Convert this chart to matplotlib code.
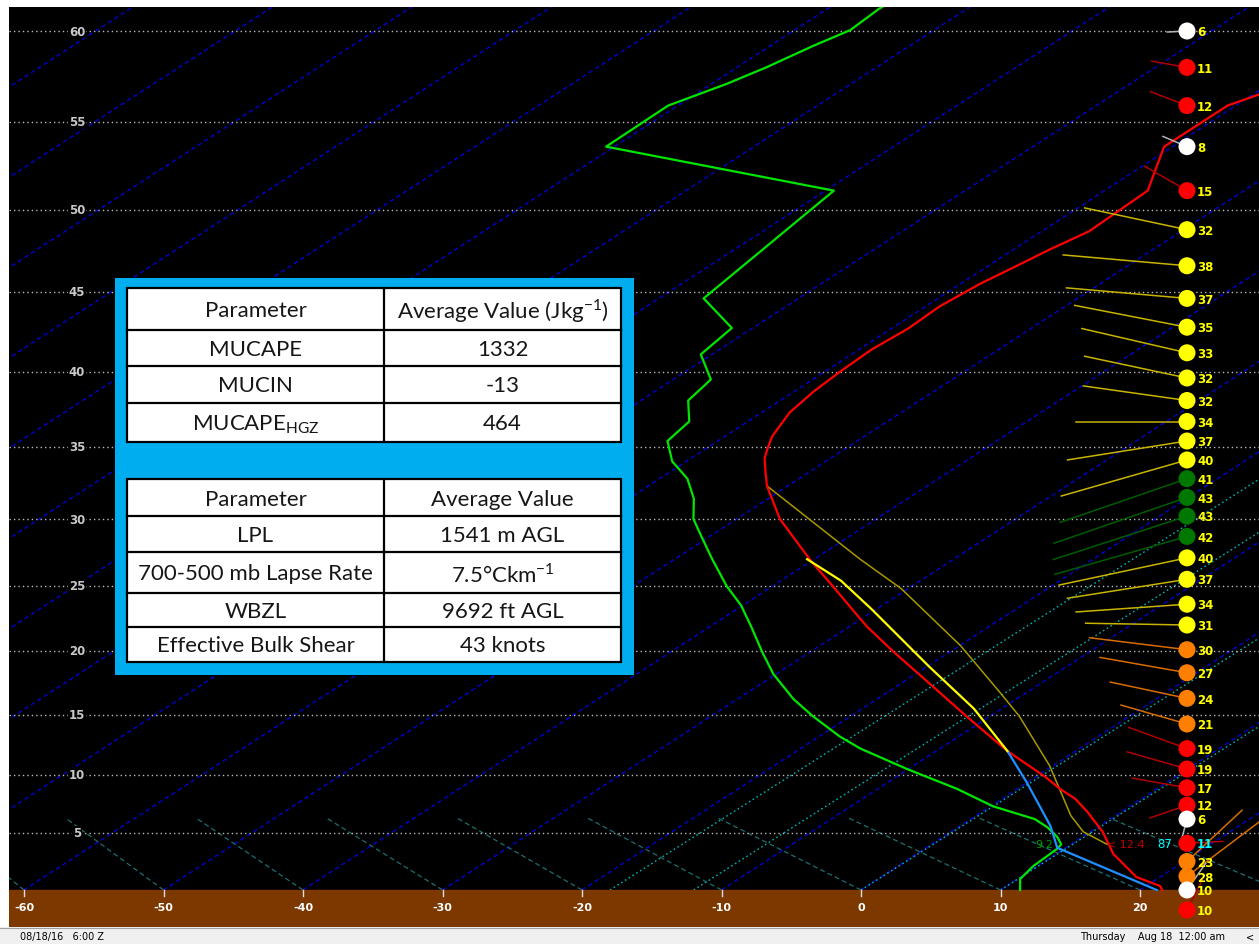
import numpy as np
import matplotlib
matplotlib.use("Agg")
import matplotlib.pyplot as plt
from matplotlib.patches import Rectangle

# ---- axis calibration (height labels in kft and their vertical position) ----
H_TICKS = [0, 5, 10, 15, 20, 25, 30, 35, 40, 45, 50, 55, 60]
Z_TICKS = [0, 57, 115, 175, 239, 304, 371, 443, 518, 598, 680, 768, 859]
SKEW = 0.11075          # deg C of skew per vertical unit
PX_PER_DEG = 13.95
TEMP_TICKS = [-60, -50, -40, -30, -20, -10, 0, 10, 20]
MIXR_START = [-18, -12, 0, 10]

# ---- sounding data: temperature (C) vs height (kft) ----
temp_h = [0, 0.35, 1.14, 3.16, 5.09, 6.81, 7.93, 8.79, 9.83, 12.0, 14.9, 17.6, 20.0,
          21.9, 23.2, 25.0, 26.9, 30.0, 32.3, 33.3, 34.2, 34.9, 35.7, 37.3, 38.7,
          40.0, 41.4, 42.7, 44.1, 45.5, 46.7, 47.6, 48.7, 51.1, 53.6, 55.9, 56.5, 57.4]
temp_t = [21.6, 21.0, 18.3, 14.1, 10.9, 7.6, 5.3, 3.1, 0.7, -4.9, -11.7, -18.3, -24.2,
          -28.8, -31.7, -35.7, -40.1, -46.9, -51.5, -53.2, -54.7, -55.6, -56.6, -58.0, -58.6,
          -58.9, -59.1, -58.8, -59.0, -58.6, -57.9, -57.4, -56.6, -56.9, -60.6, -60.6, -59.6, -59.1]

dwpt_h = [0, 0.96, 2.1, 3.6, 4.0, 4.65, 5.5, 6.2, 7.3, 8.8, 10.5, 12.2, 13.2, 14.9,
          16.25, 18.2, 19.9, 21.8, 23.5, 25.0, 27.0, 28.7, 30.0, 31.4, 32.8, 34.0, 35.4,
          36.7, 38.1, 39.5, 41.1, 42.75, 44.6, 51.1, 53.6, 55.9, 57.1, 58.0, 59.2, 60.05, 61.2, 61.8]
dwpt_t = [11.4, 10.2, 9.7, 9.5, 9.3, 8.2, 6.4, 4.6, 0.2, -4.3, -10.1, -15.7, -18.5, -22.7,
          -26.0, -30.2, -33.4, -36.9, -40.1, -43.3, -47.3, -50.6, -53.1, -55.3, -58.0, -61.0, -63.6,
          -64.2, -66.6, -67.3, -70.8, -71.5, -76.8, -79.4, -100.6, -100.7, -98.9, -97.9, -96.9, -96.0, -96.3, -96.2]

# surface-based parcel (blue) and lifted parcel (yellow)
sfc_parcel_h = [0, 3.7, 5.6, 9.4, 12.0]
sfc_parcel_t = [21.2, 9.4, 6.5, -0.1, -4.9]
lpl_parcel_h = [12.0, 15.5, 18.8, 23.2, 25.4, 27.0]
lpl_parcel_t = [-4.9, -12.0, -19.9, -30.3, -35.7, -40.5]

# most-unstable parcel (olive)
mu_parcel_h = [4.0, 5.1, 6.5, 10.75, 14.9, 16.8, 20.4, 24.8, 27.0, 32.3]
mu_parcel_t = [12.6, 9.5, 6.8, -0.2, -7.9, -12.0, -19.9, -30.5, -36.7, -51.5]

# ---- winds: height (kft), direction (deg), speed (kt) ----
wind_h = [60.0, 58.0, 55.9, 53.6, 51.1, 48.8, 46.6, 44.6, 42.8, 41.2, 39.6, 38.1, 36.7,
          35.4, 34.1, 32.8, 31.5, 30.2, 28.7, 27.1, 25.5, 23.6, 22.0, 20.1, 18.3, 16.3,
          14.25, 12.2, 10.5, 8.9, 7.4, 6.2, 4.1, 2.5, 1.2, 0.0, -1.75]
wind_dir = [267, 280, 291, 293, 300, 282, 275, 275, 281, 283, 282, 278, 270,
            261, 254, 251, 251, 252, 254, 258, 261, 266, 271, 277, 280, 282,
            286, 290, 286, 280, 251, 195, 87, 47, 53, 35, 27]
wind_spd = [6, 11, 12, 8, 15, 32, 38, 37, 35, 33, 32, 32, 34,
            37, 40, 41, 43, 43, 42, 40, 37, 34, 31, 30, 27, 24,
            21, 19, 19, 17, 12, 6, 11, 23, 28, 10, 10.4]

# parcel level annotations
lpl_h = 4.0
lpl_dwpt = 9.2
lpl_temp = 12.4
lpl_rh = 87
rh_wind_idx = 32

# table contents
table1_rows = [["Parameter", "Average Value (Jkg$^{\\mathregular{-1}}$)"],
               ["MUCAPE", "1332"],
               ["MUCIN", "-13"],
               ["MUCAPE$_{\\mathregular{HGZ}}$", "464"]]
table2_rows = [["Parameter", "Average Value"],
               ["LPL", "1541 m AGL"],
               ["700-500 mb Lapse Rate", "7.5\u00b0Ckm$^{\\mathregular{-1}}$"],
               ["WBZL", "9692 ft AGL"],
               ["Effective Bulk Shear", "43 knots"]]

NARROW = ["Liberation Sans Narrow", "DejaVu Sans"]


def zpos(h):
    h = np.asarray(h, float)
    z = np.interp(h, H_TICKS, Z_TICKS)
    s_lo = (Z_TICKS[1] - Z_TICKS[0]) / (H_TICKS[1] - H_TICKS[0])
    s_hi = (Z_TICKS[-1] - Z_TICKS[-2]) / (H_TICKS[-1] - H_TICKS[-2])
    z = np.where(h < H_TICKS[0], Z_TICKS[0] + (h - H_TICKS[0]) * s_lo, z)
    z = np.where(h > H_TICKS[-1], Z_TICKS[-1] + (h - H_TICKS[-1]) * s_hi, z)
    return z


def skx(t, h):
    return np.asarray(t, float) + SKEW * zpos(h)


W, H = 1259, 945
fig = plt.figure(figsize=(W / 100, H / 100), dpi=100, facecolor="white")
ax = fig.add_axes([9 / W, 17 / H, 1250 / W, 920 / H])
ax.set_facecolor("black")
ax.set_xlim((9 - 861) / PX_PER_DEG, (1259 - 861) / PX_PER_DEG)
ax.set_ylim(-37, 883)
ax.set_xticks([])
ax.set_yticks([])
for sp in ax.spines.values():
    sp.set_visible(False)

ZTOP = 890
zz = np.array([0, ZTOP])

# skewed isotherms
for t0 in range(-150, 30, 10):
    ax.plot(t0 + SKEW * zz, zz, color="#0000c8", lw=1.1, ls=(0, (2.8, 2.2)), zorder=1)

# mixing ratio lines
for t0 in MIXR_START:
    ax.plot(t0 + 0.1133 * zz, zz, color="#00b4b4", lw=1.0, ls=(0, (1.2, 2)), zorder=1)

# short dry adiabats near the ground
for t0 in range(-60, 40, 10):
    dx = (98 + 0.9 * (t0 + 50)) / PX_PER_DEG
    ax.plot([t0, t0 - dx], [0, 72], color="#1e6e6e", lw=0.9, ls=(0, (4, 2.5)), zorder=1)

# height lines + labels
for h in H_TICKS[1:]:
    z = float(zpos(h))
    ax.axhline(z, color="#bcbcbc", lw=1.0, ls=(0, (1, 2.2)), zorder=2)
    ax.text((77 - 9) / 1250, z, str(h), transform=ax.get_yaxis_transform(),
            ha="center", va="center", color="#c8c8c8", fontsize=8.5,
            family=NARROW, fontweight="bold",
            bbox=dict(facecolor="black", edgecolor="none", pad=0.6), zorder=3)

# ground band + temperature ticks
ax.axhspan(-37, 0, color="#7d3800", zorder=4)
for t in TEMP_TICKS:
    ax.plot([t, t], [0, -6], color="#e0e0e0", lw=1.0, zorder=5)
    ax.text(t, -17, str(t), ha="center", va="center", color="white", fontsize=8,
            family=NARROW, fontweight="bold", zorder=5)

# profiles
ax.plot(skx(mu_parcel_t, mu_parcel_h), zpos(mu_parcel_h), color="#a89800", lw=1.1, zorder=6)
ax.plot(skx(temp_t, temp_h), zpos(temp_h), color="#ff0000", lw=1.6, zorder=7)
ax.plot(skx(dwpt_t, dwpt_h), zpos(dwpt_h), color="#00e600", lw=1.6, zorder=7)
ax.plot(skx(sfc_parcel_t, sfc_parcel_h), zpos(sfc_parcel_h), color="#1e90ff", lw=1.6, zorder=8)
ax.plot(skx(lpl_parcel_t, lpl_parcel_h), zpos(lpl_parcel_h), color="#ffff00", lw=1.6, zorder=8)

zl = float(zpos(lpl_h))
ax.annotate(f"{lpl_dwpt}", (float(skx(lpl_dwpt, lpl_h)), zl), xytext=(-5, 0),
            textcoords="offset points", ha="right", va="center", color="#00a000",
            fontsize=8, family=NARROW, zorder=9)
ax.annotate(f"< {lpl_temp}", (float(skx(lpl_temp, lpl_h)), zl), xytext=(1.5, 0),
            textcoords="offset points", ha="left", va="center", color="#c00000",
            fontsize=8, family=NARROW, zorder=9)

# winds
WIND_X = (1187 - 861) / PX_PER_DEG
LEN_PER_KT = 3.27


def wind_colors(spd):
    if spd <= 10:
        return "white", "#b4b4b4"
    if spd <= 20:
        return "#ff0000", "#b00000"
    if spd <= 30:
        return "#ff8000", "#d86c00"
    if spd <= 40:
        return "#ffff00", "#c8b400"
    return "#007800", "#005c00"


for h, d, s in zip(wind_h, wind_dir, wind_spd):
    z = float(zpos(h))
    cfill, cshaft = wind_colors(s)
    L = LEN_PER_KT * s
    ex = WIND_X + L * np.sin(np.radians(d)) / PX_PER_DEG
    ez = z + L * np.cos(np.radians(d))
    ax.plot([WIND_X, ex], [z, ez], color=cshaft, lw=1.1, zorder=10)
for i, (h, d, s) in enumerate(zip(wind_h, wind_dir, wind_spd)):
    z = float(zpos(h))
    cfill, cshaft = wind_colors(s)
    ax.scatter([WIND_X], [z], s=150, color=cfill, edgecolors="none", zorder=11, clip_on=False)
    lab_col = "#00ffff" if i == rh_wind_idx else "#ffff00"
    ax.annotate(f"{s:.0f}", (WIND_X, z), xytext=(7.2, -0.5), textcoords="offset points",
                ha="left", va="center", color=lab_col, fontsize=8.5, fontweight="bold",
                family=NARROW, zorder=12)
    if i == rh_wind_idx:
        ax.annotate(str(lpl_rh), (WIND_X, z), xytext=(-11, 0), textcoords="offset points",
                    ha="right", va="center", color="#00ffff", fontsize=8.5,
                    family=NARROW, zorder=12)

# ---- overlay in figure pixels: status bar and tables ----
ov = fig.add_axes([0, 0, 1, 1], zorder=20)
ov.set_xlim(0, W)
ov.set_ylim(H, 0)
ov.axis("off")
ov.add_patch(Rectangle((0, 928), W, 17, facecolor="#f0f0f0", edgecolor="none"))
ov.plot([0, W], [928.5, 928.5], color="#a0a0a0", lw=0.8)
ov.text(20, 937, "08/18/16   6:00 Z", fontsize=7, va="center", ha="left", color="black",
        family=NARROW)
ov.text(1225, 937, "Thursday    Aug 18  12:00 am", fontsize=7, va="center", ha="right",
        color="black", family=NARROW)
ov.text(1250, 937, "<", fontsize=7, va="center", ha="center", color="black")

ov.add_patch(Rectangle((115, 279), 519, 397, facecolor="#00aeef", edgecolor="none"))


def draw_table(rows, x0, x1, xsplit, ys):
    ov.add_patch(Rectangle((x0, ys[0]), x1 - x0, ys[-1] - ys[0], facecolor="white",
                           edgecolor="black", lw=1.6))
    ov.plot([xsplit, xsplit], [ys[0], ys[-1]], color="black", lw=1.6)
    for y in ys[1:-1]:
        ov.plot([x0, x1], [y, y], color="black", lw=1.6)
    for i, (a, b) in enumerate(rows):
        yc = (ys[i] + ys[i + 1]) / 2
        ov.text((x0 + xsplit) / 2, yc + 1, a, ha="center", va="center", fontsize=16,
                family=["Lato", "DejaVu Sans"], color="#161616")
        ov.text((xsplit + x1) / 2, yc + 1, b, ha="center", va="center", fontsize=16,
                family=["Lato", "DejaVu Sans"], color="#161616")


draw_table(table1_rows, 127, 621, 384, [289, 331, 367, 404, 443])
draw_table(table2_rows, 127, 621, 384, [480, 517, 553, 594, 628, 663])

fig.savefig("out.png", dpi=100, facecolor="white")
